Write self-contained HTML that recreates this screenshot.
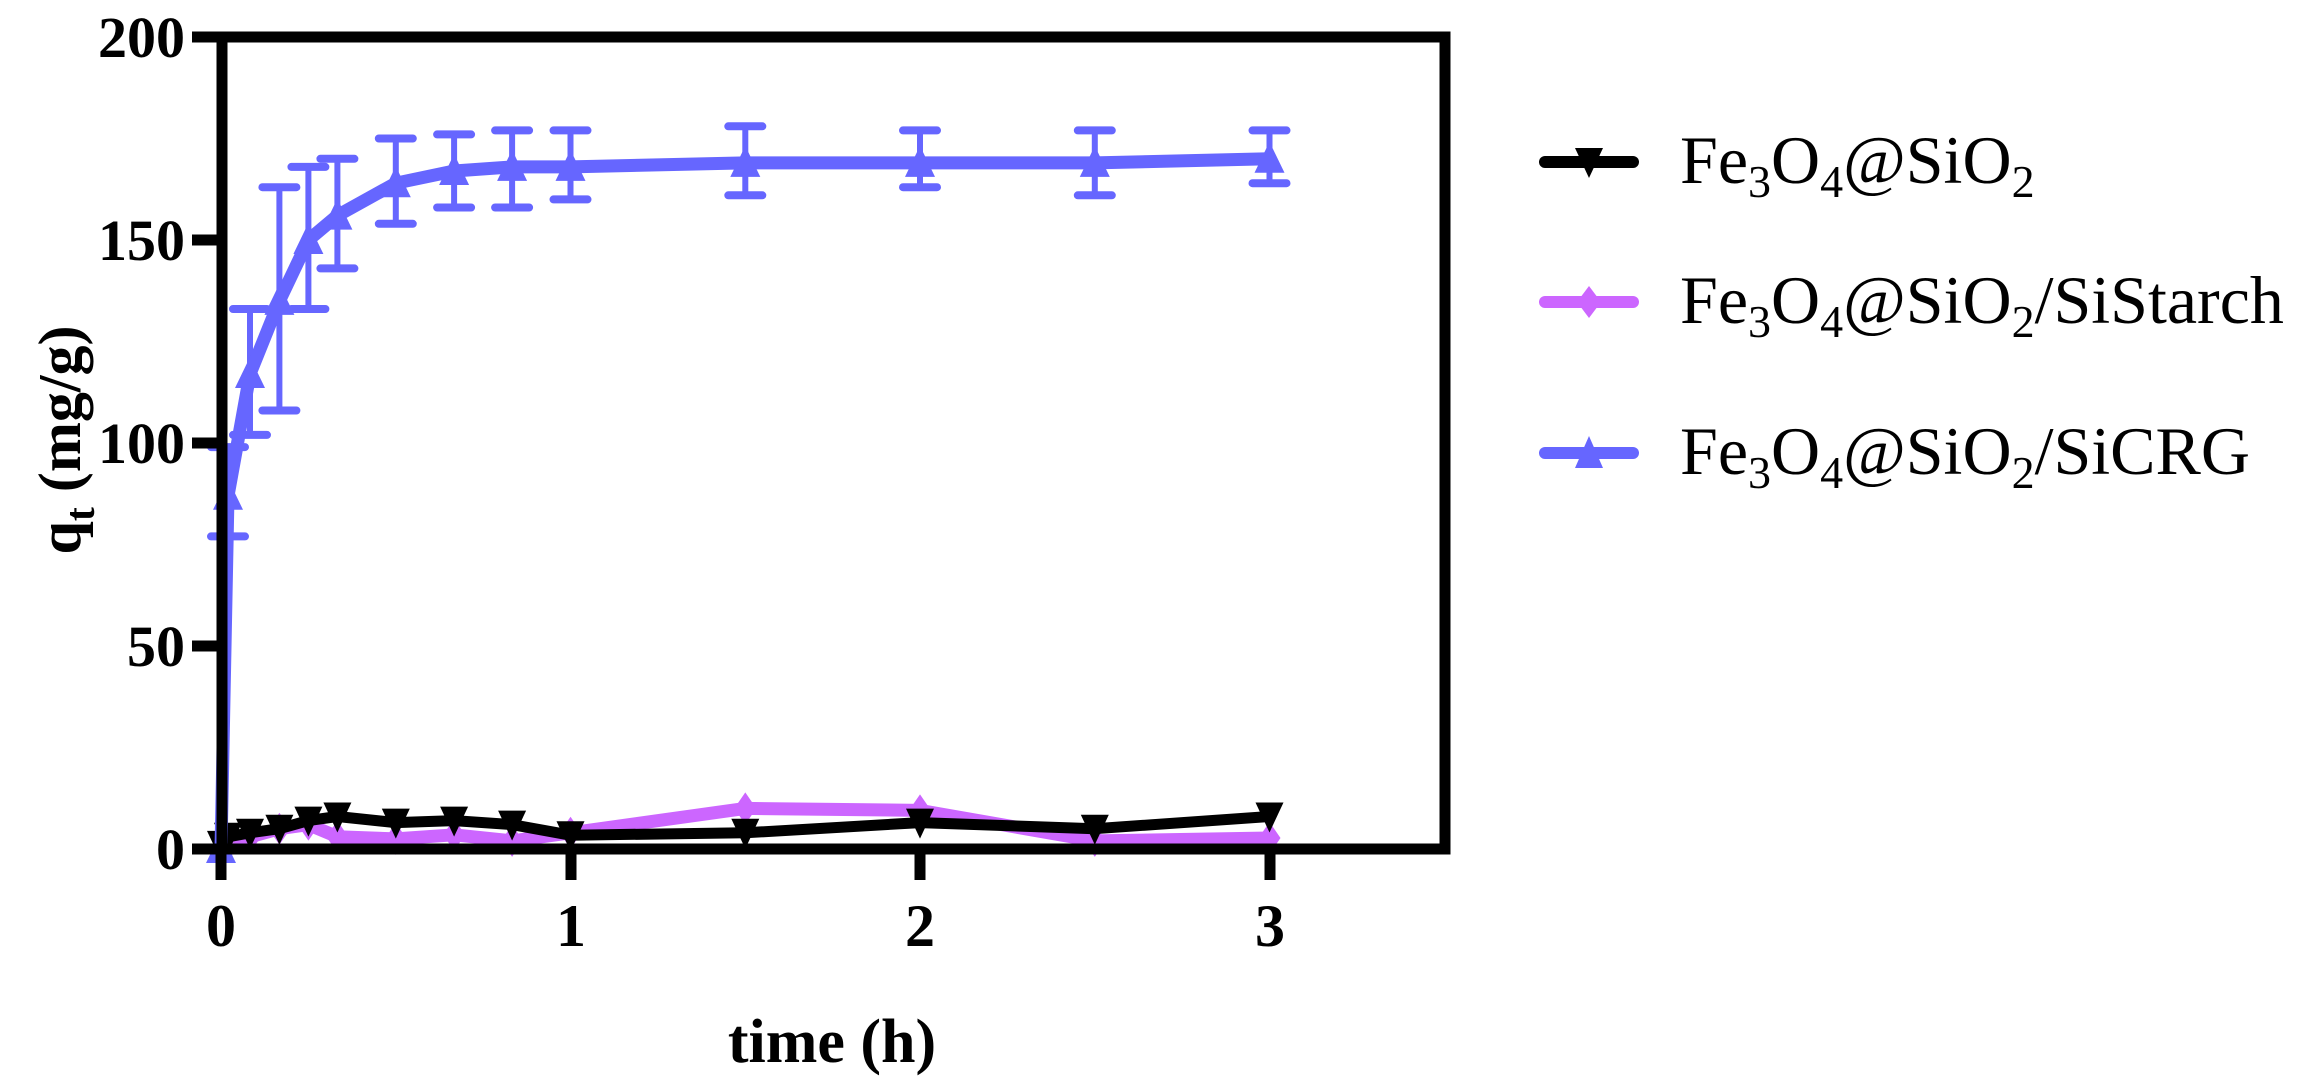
<!DOCTYPE html>
<html><head><meta charset="utf-8"><style>html,body{margin:0;padding:0;background:#fff}svg{display:block}</style></head>
<body>
<svg width="2324" height="1083" viewBox="0 0 2324 1083" xmlns="http://www.w3.org/2000/svg" xmlns:xlink="http://www.w3.org/1999/xlink" font-family="Liberation Serif, serif">
<defs>
<polygon id="dn" points="-14,-14 14,-14 0,16" fill="#000"/>
<polygon id="dia" points="0,-16 11,0 0,16 -11,0" fill="#cc66ff"/>
<polygon id="up" points="0,-17 15,14 -15,14" fill="#6666ff"/>
</defs>
<rect width="2324" height="1083" fill="#fff"/>
<!-- blue error bars -->
<g stroke="#6666ff" stroke-width="6" fill="none">
<path d="M228,536.4V447.1 M250,434.9V309 M279.4,410.5V187.2 M308.4,309V166.9 M337.4,268.4V158.8 M395.8,223.8V138.5 M454.1,207.5V134.4 M512.1,207.5V130.4 M570.5,199.4V130.4 M745.3,195.3V126.3 M920,187.2V130.4 M1094.8,195.3V130.4 M1269.5,183.2V130.4"/>
</g>
<g stroke="#6666ff" stroke-width="8" stroke-linecap="round">
<path d="M211,536.4h34M211,447.1h34 M233,434.9h34M233,309h34 M262.4,410.5h34M262.4,187.2h34 M291.4,309h34M291.4,166.9h34 M320.4,268.4h34M320.4,158.8h34 M378.8,223.8h34M378.8,138.5h34 M437.1,207.5h34M437.1,134.4h34 M495.1,207.5h34M495.1,130.4h34 M553.5,199.4h34M553.5,130.4h34 M728.3,195.3h34M728.3,126.3h34 M903,187.2h34M903,130.4h34 M1077.8,195.3h34M1077.8,130.4h34 M1252.5,183.2h34M1252.5,130.4h34"/>
</g>
<!-- purple -->
<polyline fill="none" stroke="#cc66ff" stroke-width="13" stroke-linejoin="round" points="221,849 228,844.9 250,836.8 279.4,828.7 308.4,824.6 337.4,836.8 395.8,838.9 454.1,834.8 512.1,840.9 570.5,832.8 745.3,808.4 920,810.4 1094.8,840.9 1269.5,838"/>
<use xlink:href="#dia" x="221" y="849"/><use xlink:href="#dia" x="228" y="844.9"/><use xlink:href="#dia" x="250" y="836.8"/><use xlink:href="#dia" x="279.4" y="828.7"/><use xlink:href="#dia" x="308.4" y="824.6"/><use xlink:href="#dia" x="337.4" y="836.8"/><use xlink:href="#dia" x="395.8" y="838.9"/><use xlink:href="#dia" x="454.1" y="834.8"/><use xlink:href="#dia" x="512.1" y="840.9"/><use xlink:href="#dia" x="570.5" y="832.8"/><use xlink:href="#dia" x="745.3" y="808.4"/><use xlink:href="#dia" x="920" y="810.4"/><use xlink:href="#dia" x="1094.8" y="840.9"/><use xlink:href="#dia" x="1269.5" y="838"/>
<!-- black -->
<polyline fill="none" stroke="#000" stroke-width="11" stroke-linejoin="round" points="221,844.9 228,836.8 250,832.8 279.4,828.7 308.4,820.6 337.4,816.5 395.8,822.6 454.1,820.6 512.1,824.6 570.5,835.2 745.3,832.8 920,822.6 1094.8,828.7 1269.5,816.5"/>
<use xlink:href="#dn" x="221" y="844.9"/><use xlink:href="#dn" x="228" y="836.8"/><use xlink:href="#dn" x="250" y="832.8"/><use xlink:href="#dn" x="279.4" y="828.7"/><use xlink:href="#dn" x="308.4" y="820.6"/><use xlink:href="#dn" x="337.4" y="816.5"/><use xlink:href="#dn" x="395.8" y="822.6"/><use xlink:href="#dn" x="454.1" y="820.6"/><use xlink:href="#dn" x="512.1" y="824.6"/><use xlink:href="#dn" x="570.5" y="835.2"/><use xlink:href="#dn" x="745.3" y="832.8"/><use xlink:href="#dn" x="920" y="822.6"/><use xlink:href="#dn" x="1094.8" y="828.7"/><use xlink:href="#dn" x="1269.5" y="816.5"/>
<!-- blue -->
<polyline fill="none" stroke="#6666ff" stroke-width="13" stroke-linejoin="round" points="221,849 228,495.8 250,374 279.4,300.9 308.4,240 337.4,215.6 395.8,183.2 454.1,171 512.1,166.9 570.5,166.9 745.3,162.9 920,162.9 1094.8,162.9 1269.5,158.8"/>
<use xlink:href="#up" x="221" y="849"/><use xlink:href="#up" x="228" y="495.8"/><use xlink:href="#up" x="250" y="374"/><use xlink:href="#up" x="279.4" y="300.9"/><use xlink:href="#up" x="308.4" y="240"/><use xlink:href="#up" x="337.4" y="215.6"/><use xlink:href="#up" x="395.8" y="183.2"/><use xlink:href="#up" x="454.1" y="171"/><use xlink:href="#up" x="512.1" y="166.9"/><use xlink:href="#up" x="570.5" y="166.9"/><use xlink:href="#up" x="745.3" y="162.9"/><use xlink:href="#up" x="920" y="162.9"/><use xlink:href="#up" x="1094.8" y="162.9"/><use xlink:href="#up" x="1269.5" y="158.8"/>
<!-- frame -->
<rect x="222" y="37" width="1223" height="812" fill="none" stroke="#000" stroke-width="11"/>
<g stroke="#000" stroke-width="11">
<line x1="192" y1="37" x2="222" y2="37"/><line x1="192" y1="240" x2="222" y2="240"/>
<line x1="192" y1="443" x2="222" y2="443"/><line x1="192" y1="646" x2="222" y2="646"/>
<line x1="192" y1="849" x2="222" y2="849"/>
<line x1="221" y1="849" x2="221" y2="880"/><line x1="571" y1="849" x2="571" y2="880"/>
<line x1="920" y1="849" x2="920" y2="880"/><line x1="1270" y1="849" x2="1270" y2="880"/>
</g>
<g font-size="58" font-weight="bold" text-anchor="end">
<text x="185" y="57">200</text><text x="185" y="260">150</text><text x="185" y="463">100</text>
<text x="185" y="666">50</text><text x="185" y="869">0</text>
</g>
<g font-size="60" font-weight="bold" text-anchor="middle">
<text x="221" y="946">0</text><text x="571" y="946">1</text><text x="920" y="946">2</text><text x="1270" y="946">3</text>
</g>
<text x="832" y="1062" font-size="62" font-weight="bold" text-anchor="middle">time (h)</text>
<text transform="translate(80,440) rotate(-90)" font-size="60" font-weight="bold" text-anchor="middle">q<tspan font-size="42" dy="14">t</tspan><tspan dy="-14"> (mg/g)</tspan></text>
<!-- legend -->
<g stroke-width="12" stroke-linecap="round">
<line x1="1545" y1="162" x2="1633" y2="162" stroke="#000"/>
<line x1="1545" y1="302" x2="1633" y2="302" stroke="#cc66ff"/>
<line x1="1545" y1="453" x2="1633" y2="453" stroke="#6666ff"/>
</g>
<polygon points="1575,148 1603,148 1589,178" fill="#000"/>
<polygon points="1589,286 1601,302 1589,318 1577,302" fill="#cc66ff"/>
<polygon points="1589,436 1603,468 1575,468" fill="#6666ff"/>
<g font-size="68">
<text x="1680" y="183">Fe<tspan font-size="46" dy="14">3</tspan><tspan dy="-14">O</tspan><tspan font-size="46" dy="14">4</tspan><tspan dy="-14">@SiO</tspan><tspan font-size="46" dy="14">2</tspan></text>
<text x="1680" y="323">Fe<tspan font-size="46" dy="14">3</tspan><tspan dy="-14">O</tspan><tspan font-size="46" dy="14">4</tspan><tspan dy="-14">@SiO</tspan><tspan font-size="46" dy="14">2</tspan><tspan dy="-14">/SiStarch</tspan></text>
<text x="1680" y="474">Fe<tspan font-size="46" dy="14">3</tspan><tspan dy="-14">O</tspan><tspan font-size="46" dy="14">4</tspan><tspan dy="-14">@SiO</tspan><tspan font-size="46" dy="14">2</tspan><tspan dy="-14">/SiCRG</tspan></text>
</g>
</svg>
</body></html>
